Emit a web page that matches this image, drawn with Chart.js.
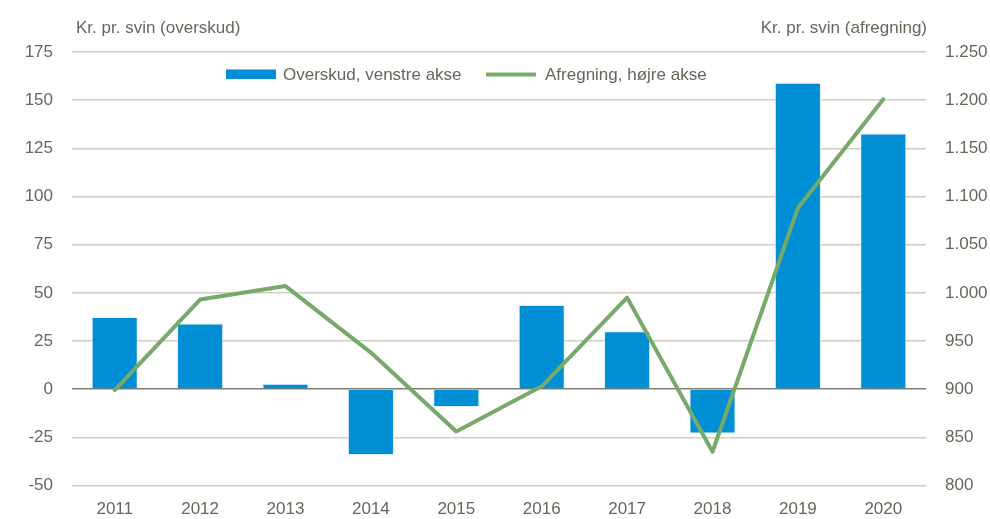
<!DOCTYPE html>
<html><head><meta charset="utf-8">
<script src="https://cdn.jsdelivr.net/npm/chart.js@4"></script>
<style>html,body{margin:0;padding:0;background:#fff}</style>
</head><body>
<canvas id="c" width="990" height="519"></canvas>
<script>
const years = ['2011','2012','2013','2014','2015','2016','2017','2018','2019','2020'];
const overskud = [37.4, 34.1, 2.8, -34.2, -9.3, 43.7, 30.1, -23, 159, 132.7];
const afregning = [899, 993, 1007, 938, 856, 903, 995, 835, 1088, 1201];
const leftTitle = 'Kr. pr. svin (overskud)';
const rightTitle = 'Kr. pr. svin (afregning)';
const seriesLabels = ['Overskud, venstre akse', 'Afregning, højre akse'];

const TXT = '#66665a';
const FONT = 'Liberation Sans, Arial, sans-serif';
const BLUE = '#008fd5';
const GREEN = '#76a96a';

const overlay = {
  id: 'overlay',
  afterDraw(chart) {
    const ctx = chart.ctx;
    const a = chart.chartArea;
    ctx.save();
    ctx.fillStyle = TXT;
    ctx.font = '17px ' + FONT;
    ctx.textBaseline = 'alphabetic';
    ctx.textAlign = 'left';
    ctx.fillText(leftTitle, a.left + 4, 33);
    ctx.textAlign = 'right';
    ctx.fillText(rightTitle, a.right + 1, 33);
    // legend
    const ds = chart.data.datasets;
    ctx.textAlign = 'left';
    ctx.textBaseline = 'middle';
    ctx.fillStyle = ds[0].backgroundColor;
    ctx.fillRect(226, 69.5, 50, 9.5);
    ctx.fillStyle = TXT;
    ctx.fillText(ds[0].label, 283, 75);
    ctx.strokeStyle = ds[1].borderColor;
    ctx.lineWidth = 4;
    ctx.beginPath(); ctx.moveTo(486, 74.5); ctx.lineTo(536, 74.5); ctx.stroke();
    ctx.fillStyle = TXT;
    ctx.fillText(ds[1].label, 545, 75);
    ctx.restore();
  }
};

new Chart(document.getElementById('c'), {
  data: {
    labels: years,
    datasets: [
      { type: 'bar', label: seriesLabels[0], data: overskud, yAxisID: 'y',
        backgroundColor: BLUE, borderColor: 'rgba(220,240,250,0.9)', borderWidth: 1,
        categoryPercentage: 1, barPercentage: 0.54, order: 2 },
      { type: 'line', label: seriesLabels[1], data: afregning, yAxisID: 'y1',
        borderColor: GREEN, backgroundColor: GREEN, borderWidth: 4, pointRadius: 0,
        tension: 0, borderJoinStyle: 'round', borderCapStyle: 'round', order: 1 }
    ]
  },
  options: {
    responsive: false, animation: false, devicePixelRatio: 1,
    layout: { padding: { top: 52, left: 0, right: 0, bottom: 0 } },
    plugins: { legend: { display: false }, tooltip: { enabled: false } },
    scales: {
      x: {
        offset: true,
        grid: { display: false, drawTicks: false }, border: { display: false },
        ticks: { color: TXT, font: { family: FONT, size: 17 }, padding: 14, maxRotation: 0 },
        afterFit(s) { s.height = 33.5; }
      },
      y: {
        position: 'left', min: -50, max: 175,
        ticks: { stepSize: 25, color: TXT, font: { family: FONT, size: 17 }, padding: 19 },
        grid: { drawTicks: false, lineWidth: 1.5,
          color: c => c.tick && c.tick.value === 0 ? '#7d7d70' : '#cfcfc4' },
        border: { display: false },
        afterFit(s) { s.width = 72; }
      },
      y1: {
        position: 'right', min: 800, max: 1250,
        ticks: { stepSize: 50, color: TXT, font: { family: FONT, size: 17 }, padding: 19,
          callback: v => String(v).replace(/\B(?=(\d{3})+(?!\d))/g, '.') },
        grid: { display: false, drawTicks: false }, border: { display: false },
        afterFit(s) { s.width = 64; }
      }
    }
  },
  plugins: [overlay]
});
</script>
</body></html>
